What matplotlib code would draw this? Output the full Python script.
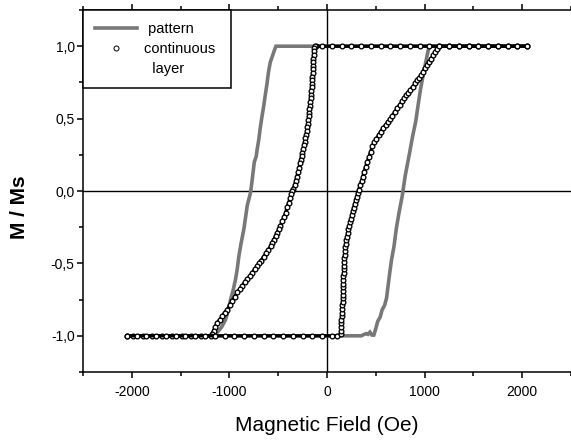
import numpy as np
import matplotlib
matplotlib.use('Agg')
import matplotlib.pyplot as plt
from matplotlib import ticker
from matplotlib.lines import Line2D

plt.rcParams['font.family'] = ['Liberation Sans', 'DejaVu Sans']
plt.rcParams['axes.unicode_minus'] = False

# pattern (gray line), descending and ascending branch
pat_dn_H = [2050, 1500, 1000, 500, 0, -300, -523, -540, -560, -581, -600, -615, -633, -650,
            -665, -685, -700, -715, -725, -745, -766, -783, -817, -851, -880, -903, -920,
            -937, -960, -988, -1010, -1040, -1080, -1130, -1180, -1500, -2050]
pat_dn_M = [1, 1, 1, 1, 1, 1, 1.0, 0.97, 0.93, 0.89, 0.82, 0.74, 0.66, 0.58,
            0.52, 0.43, 0.35, 0.29, 0.24, 0.20, 0.08, -0.01, -0.10, -0.26, -0.36, -0.45, -0.54,
            -0.61, -0.68, -0.75, -0.82, -0.89, -0.94, -0.98, -1.0, -1.0, -1.0]
pat_up_H = [-2050, -1500, -1000, -500, 0, 350, 400, 420, 440, 460, 480, 500, 520, 545, 565,
            590, 610, 625, 640, 660, 687, 710, 738, 772, 800, 841, 875, 909, 935, 960, 985,
            1012, 1030, 1046, 1500, 2050]
pat_up_M = [-1, -1, -1, -1, -1, -1.0, -0.985, -0.99, -0.975, -0.995, -0.995, -0.95, -0.90, -0.87, -0.82,
            -0.79, -0.74, -0.66, -0.58, -0.48, -0.38, -0.26, -0.15, -0.03, 0.10, 0.245, 0.37, 0.48, 0.60, 0.71, 0.80,
            0.89, 0.95, 1.0, 1.0, 1.0]

# continuous layer (open circles), descending branch
cont_dn_H = [2050, 1950, 1850, 1750, 1650, 1550, 1450, 1350, 1250, 1150, 1050, 950, 850, 750,
             650, 550, 450, 350, 250, 150, 50, -50, -110, -125,
             -134, -136, -138, -140, -142, -144, -146, -148, -150, -153, -155, -158, -161, -164,
             -168, -172, -176, -180, -184, -188, -192, -197, -202, -208, -214, -221, -228, -236,
             -244, -252, -260, -268, -276, -286, -297, -308, -318, -332, -345,
             -355, -365, -378, -392, -407, -424, -440, -458, -477, -495, -512, -526, -545, -562,
             -577, -600, -625, -650, -675, -697, -715, -740, -765, -790, -817, -843, -868, -895,
             -920, -945, -970, -997, -1023, -1048, -1073, -1100, -1125, -1145, -1162, -1176, -1190,
             -1290, -1390, -1490, -1590, -1690, -1790, -1890, -1990, -2050]
cont_dn_M = [1.0, 1.0, 1.0, 1.0, 1.0, 1.0, 1.0, 1.0, 1.0, 1.0, 1.0, 1.0, 1.0, 1.0,
             1.0, 1.0, 1.0, 1.0, 1.0, 1.0, 1.0, 1.0, 1.0, 1.0,
             0.99, 0.965, 0.94, 0.915, 0.89, 0.865, 0.84, 0.815, 0.79, 0.765, 0.74, 0.715, 0.69, 0.665,
             0.64, 0.615, 0.59, 0.565, 0.54, 0.515, 0.49, 0.465, 0.44, 0.415, 0.39, 0.365, 0.34, 0.315,
             0.29, 0.265, 0.24, 0.215, 0.19, 0.16, 0.13, 0.10, 0.07, 0.04, 0.015,
             0.0, -0.02, -0.05, -0.08, -0.11, -0.15, -0.18, -0.21, -0.24, -0.265, -0.29, -0.31, -0.335, -0.36,
             -0.38, -0.405, -0.43, -0.455, -0.48, -0.50, -0.52, -0.54, -0.565, -0.59, -0.61, -0.63, -0.655, -0.68,
             -0.70, -0.73, -0.76, -0.79, -0.82, -0.84, -0.865, -0.89, -0.91, -0.94, -0.965, -0.99, -1.0,
             -1.0, -1.0, -1.0, -1.0, -1.0, -1.0, -1.0, -1.0, -1.0]

# continuous layer, ascending branch
cont_up_H = [-2050, -1950, -1850, -1750, -1650, -1550, -1450, -1350, -1250, -1150, -1050, -950,
             -850, -750, -650, -550, -450, -350, -250, -150, -50, 50, 100,
             141, 143, 145, 147, 148, 150, 152, 155, 157, 159, 160, 162, 163, 165, 166, 168, 169,
             171, 172, 174, 176, 178, 181, 185, 189, 194, 199, 205, 212, 220, 228, 237, 246, 254,
             263, 273, 284, 295, 305, 314,
             325, 340, 355, 367, 379, 395, 412, 430, 447, 465, 485, 507, 528, 550, 575, 600, 625,
             648, 670, 695, 720, 745, 770, 790, 807, 830, 855, 880, 905, 925, 944, 965, 985, 1005,
             1025, 1046, 1068, 1090, 1110, 1130, 1150,
             1250, 1350, 1450, 1550, 1650, 1750, 1850, 1950, 2050]
cont_up_M = [-1.0, -1.0, -1.0, -1.0, -1.0, -1.0, -1.0, -1.0, -1.0, -1.0, -1.0, -1.0,
             -1.0, -1.0, -1.0, -1.0, -1.0, -1.0, -1.0, -1.0, -1.0, -1.0, -1.0,
             -0.99, -0.965, -0.94, -0.915, -0.89, -0.865, -0.84, -0.815, -0.79, -0.765, -0.74, -0.715, -0.69, -0.665, -0.64, -0.615, -0.59,
             -0.565, -0.54, -0.515, -0.49, -0.465, -0.44, -0.415, -0.39, -0.365, -0.34, -0.315, -0.29, -0.265, -0.24, -0.215, -0.19, -0.165,
             -0.14, -0.115, -0.09, -0.065, -0.04, -0.015,
             0.01, 0.04, 0.07, 0.10, 0.13, 0.165, 0.20, 0.235, 0.27, 0.31, 0.335, 0.36, 0.385, 0.41, 0.435, 0.455, 0.475,
             0.495, 0.52, 0.545, 0.57, 0.595, 0.62, 0.64, 0.66, 0.68, 0.70, 0.72, 0.745, 0.765, 0.78, 0.80, 0.825, 0.85,
             0.87, 0.89, 0.915, 0.94, 0.96, 0.98, 1.0,
             1.0, 1.0, 1.0, 1.0, 1.0, 1.0, 1.0, 1.0, 1.0]

gray = '#787878'

fig = plt.figure(figsize=(5.71, 4.43), dpi=100)
ax = fig.add_axes([83/571, 71/443, 488/571, 362/443])

ax.axhline(0, color='k', lw=1.0, zorder=1)
ax.axvline(0, color='k', lw=1.0, zorder=1)

ax.plot(pat_dn_H, pat_dn_M, color=gray, lw=2.6, zorder=2, solid_joinstyle='miter')
ax.plot(pat_up_H, pat_up_M, color=gray, lw=2.6, zorder=2, solid_joinstyle='miter')

mk = dict(color='k', lw=2.4, marker='o', ms=3.4, mfc='white', mec='k', mew=0.95, zorder=3)
ax.plot(cont_dn_H, cont_dn_M, **mk)
ax.plot(cont_up_H, cont_up_M, **mk)

ax.set_xlim(-2500, 2500)
ax.set_ylim(-1.25, 1.25)
ax.xaxis.set_major_locator(ticker.MultipleLocator(1000))
ax.xaxis.set_minor_locator(ticker.MultipleLocator(500))
ax.yaxis.set_major_locator(ticker.MultipleLocator(0.5))
ax.yaxis.set_minor_locator(ticker.MultipleLocator(0.25))
ax.yaxis.set_major_formatter(ticker.FuncFormatter(lambda v, p: '{:.1f}'.format(v).replace('.', ',')))
ax.xaxis.set_major_formatter(ticker.FuncFormatter(lambda v, p: '{:d}'.format(int(round(v)))))

ax.tick_params(which='both', direction='out', top=True, right=False, width=1.1, labelsize=10)
ax.tick_params(which='major', length=4.5)
ax.tick_params(which='minor', length=2.6)
ax.tick_params(axis='x', pad=5)
ax.tick_params(axis='y', pad=1.5)
for s in ['left', 'bottom', 'top']:
    ax.spines[s].set_linewidth(1.1)
ax.spines['right'].set_visible(False)

ax.set_xlabel('Magnetic Field (Oe)', fontsize=15)
ax.set_ylabel('M / Ms', fontsize=15, fontweight='bold')
ax.xaxis.set_label_coords(0.5, -0.122)
ax.yaxis.set_label_coords(-0.11, 0.456)

handles = [Line2D([], [], color=gray, lw=2.6),
           Line2D([], [], ls='none', marker='o', ms=3.6, mfc='white', mec='k', mew=0.7),
           Line2D([], [], ls='none')]
leg = ax.legend(handles, [' pattern', 'continuous ', '  layer'], loc='upper left',
                bbox_to_anchor=(0, 1), borderaxespad=0, fontsize=10.5, fancybox=False,
                framealpha=1, edgecolor='k', handlelength=2.9, handletextpad=0.5,
                labelspacing=0.42, borderpad=0.8, numpoints=1)
leg.get_frame().set_linewidth(1.1)

fig.savefig('out.png', dpi=100)
